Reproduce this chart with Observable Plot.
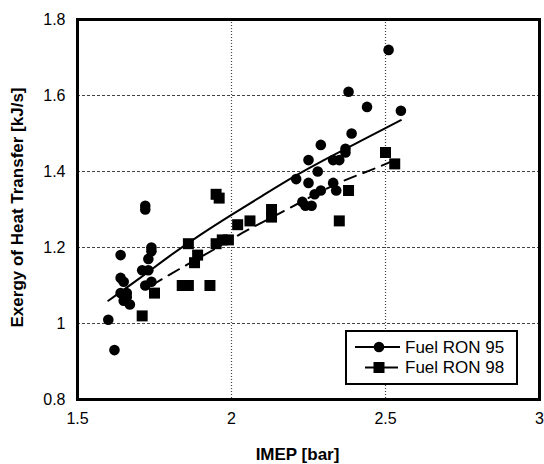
<!DOCTYPE html>
<html>
<head>
<meta charset="utf-8">
<script src="https://cdn.jsdelivr.net/npm/d3@7"></script>
<script src="https://cdn.jsdelivr.net/npm/@observablehq/plot@0.6"></script>
<style>
  html, body { margin: 0; padding: 0; background: #fff; }
</style>
</head>
<body>
<div id="chart"></div>
<script>
// ---- Data ----
const ron95X = [1.60, 1.62, 1.64, 1.65, 1.64, 1.66, 1.65, 1.67, 1.66, 1.64, 1.71, 1.72, 1.74, 1.72, 1.72, 1.73, 1.73, 1.74, 1.74,
                2.21, 2.23, 2.24, 2.25, 2.25, 2.26, 2.27, 2.28, 2.29, 2.29, 2.33, 2.33, 2.34, 2.35, 2.37, 2.37, 2.38, 2.39, 2.44, 2.51, 2.55];
const ron95Y = [1.01, 0.93, 1.12, 1.11, 1.08, 1.08, 1.06, 1.05, 1.07, 1.18, 1.14, 1.10, 1.11, 1.31, 1.30, 1.14, 1.17, 1.19, 1.20,
                1.38, 1.32, 1.31, 1.43, 1.37, 1.31, 1.34, 1.40, 1.35, 1.47, 1.43, 1.37, 1.35, 1.43, 1.46, 1.45, 1.61, 1.50, 1.57, 1.72, 1.56];

const ron98X = [1.71, 1.75, 1.84, 1.86, 1.93, 1.86, 1.88, 1.89, 1.95, 1.97, 1.99, 1.95, 1.96, 2.02, 2.06, 2.13, 2.13, 2.35, 2.38, 2.50, 2.53];
const ron98Y = [1.02, 1.08, 1.10, 1.10, 1.10, 1.21, 1.16, 1.18, 1.21, 1.22, 1.22, 1.34, 1.33, 1.26, 1.27, 1.30, 1.28, 1.27, 1.35, 1.45, 1.42];

// trend curves
const fit95X = [1.60, 1.70, 1.80, 1.90, 2.00, 2.10, 2.20, 2.30, 2.40, 2.50, 2.55];
const fit95Y = [1.06, 1.118, 1.178, 1.234, 1.286, 1.336, 1.385, 1.430, 1.472, 1.514, 1.535];
const fit98X = [1.74, 1.83, 1.95, 2.05, 2.18, 2.33, 2.45, 2.53];
const fit98Y = [1.10, 1.143, 1.198, 1.245, 1.300, 1.363, 1.403, 1.430];

const xTicks = [1.5, 2, 2.5, 3];
const yTicks = [0.8, 1, 1.2, 1.4, 1.6, 1.8];
const xGrid = [2, 2.5];
const yGrid = [1, 1.2, 1.4, 1.6];
const seriesNames = ["Fuel RON 95", "Fuel RON 98"];
const xLabel = "IMEP [bar]";
const yLabel = "Exergy of Heat Transfer [kJ/s]";

const pts95 = ron95X.map((x, i) => ({x, y: ron95Y[i]}));
const pts98 = ron98X.map((x, i) => ({x, y: ron98Y[i]}));
const line95 = fit95X.map((x, i) => ({x, y: fit95Y[i]}));
const line98 = fit98X.map((x, i) => ({x, y: fit98Y[i]}));

const font = "'Liberation Sans', Arial, Helvetica, sans-serif";

const chart = Plot.plot({
  width: 544,
  height: 464,
  marginLeft: 77,
  marginRight: 5,
  marginTop: 19,
  marginBottom: 65,
  x: {domain: [1.5, 3]},
  y: {domain: [0.8, 1.8]},
  style: {fontFamily: font, fontSize: "16px", color: "#000", background: "#fff"},
  marks: [
    Plot.gridY(yGrid, {stroke: "#222", strokeOpacity: 0.85, strokeWidth: 1, strokeDasharray: "3,2"}),
    Plot.gridX(xGrid, {stroke: "#222", strokeOpacity: 0.85, strokeWidth: 1.2, strokeDasharray: "1,2"}),
    Plot.axisX(xTicks, {tickSize: 0, tickPadding: 13, tickFormat: d => String(d), fontSize: 16, label: null}),
    Plot.axisY(yTicks, {tickSize: 0, tickPadding: 12, tickFormat: d => String(d), fontSize: 16, label: null}),
    Plot.text([xLabel], {frameAnchor: "bottom", text: d => d, dy: 60, dx: -11, lineAnchor: "bottom",
      textAnchor: "middle", fontWeight: "bold", fontSize: 17, fill: "#000"}),
    Plot.text([yLabel], {frameAnchor: "left", text: d => d, dx: -60, dy: -2, rotate: -90,
      textAnchor: "middle", fontWeight: "bold", fontSize: 17, fill: "#000"}),
    Plot.line(line95, {x: "x", y: "y", stroke: "#000", strokeWidth: 2, curve: "natural"}),
    Plot.line(line98, {x: "x", y: "y", stroke: "#000", strokeWidth: 2, curve: "natural", strokeDasharray: "12,8"}),
    Plot.dot(pts95, {x: "x", y: "y", r: 5.3, fill: "#000", stroke: "none"}),
    Plot.dot(pts98, {x: "x", y: "y", r: 6.2, symbol: "square", fill: "#000", stroke: "none"}),
    Plot.frame({stroke: "#000", strokeWidth: 3})
  ]
});

document.getElementById("chart").appendChild(chart);

// legend box inside the plot
const svg = d3.select(chart);
const lg = svg.append("g").attr("font-family", font).attr("font-size", 17).attr("text-anchor", "start");
lg.append("rect").attr("x", 346).attr("y", 331).attr("width", 171).attr("height", 53)
  .attr("fill", "#fff").attr("stroke", "#000").attr("stroke-width", 2);
lg.append("line").attr("x1", 355).attr("x2", 400).attr("y1", 347).attr("y2", 347)
  .attr("stroke", "#000").attr("stroke-width", 2);
lg.append("circle").attr("cx", 379).attr("cy", 347).attr("r", 5.3).attr("fill", "#000");
lg.append("text").attr("x", 405).attr("y", 353).attr("fill", "#000").attr("text-anchor", "start").text(seriesNames[0]);
lg.append("line").attr("x1", 365).attr("x2", 398).attr("y1", 367.5).attr("y2", 367.5)
  .attr("stroke", "#000").attr("stroke-width", 2);
lg.append("rect").attr("x", 373.5).attr("y", 362).attr("width", 11).attr("height", 11).attr("fill", "#000");
lg.append("text").attr("x", 405).attr("y", 373).attr("fill", "#000").attr("text-anchor", "start").text(seriesNames[1]);
</script>
</body>
</html>
